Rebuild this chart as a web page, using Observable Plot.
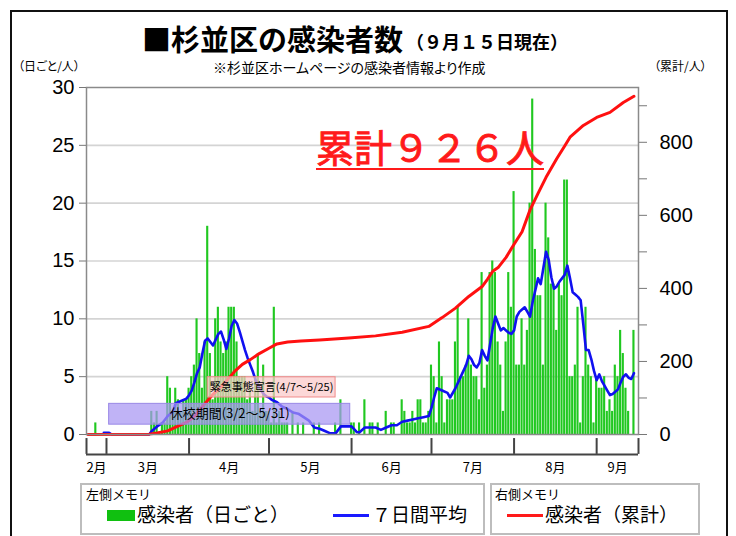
<!DOCTYPE html>
<html><head><meta charset="utf-8">
<script src="https://cdn.jsdelivr.net/npm/d3@7"></script>
<script src="https://cdn.jsdelivr.net/npm/@observablehq/plot@0.6"></script>
<style>
html,body{margin:0;padding:0;background:#fff;}
body{width:736px;height:536px;position:relative;overflow:hidden;font-family:"Noto Sans CJK JP",sans-serif;}
#frame{position:absolute;left:10px;top:10px;width:718px;height:570px;border:2px solid #111;box-sizing:border-box;}
#chart{position:absolute;left:0;top:0;}
.t{position:absolute;white-space:nowrap;line-height:1;color:#000;}
.box{position:absolute;border:2px solid #bdbdbd;box-sizing:border-box;background:#fff;}
</style></head><body>
<div id="frame"></div>
<div id="chart"></div>
<div class="t" style="left:142px;top:24px;font-size:29px;font-weight:700;">■杉並区の感染者数</div>
<div class="t" style="left:406px;top:32px;font-size:18px;font-weight:700;">（９月１５日現在）</div>
<div class="t" style="left:18px;top:60px;font-size:12px;font-feature-settings:'palt';">（日ごと/人）</div>
<div class="t" style="left:213px;top:60px;font-size:14px;font-feature-settings:'palt';">※杉並区ホームページの感染者情報より作成</div>
<div class="t" style="left:654px;top:60px;font-size:12px;font-feature-settings:'palt';">（累計/人）</div>
<div class="t" style="left:316px;top:127px;font-size:38px;font-weight:400;-webkit-text-stroke:0.9px #ff1a1a;color:#ff1a1a;padding-bottom:3px;border-bottom:2.5px solid #ff1a1a;">累計９２６人</div>

<div class="box" style="left:80px;top:483px;width:405px;height:52px;"></div>
<div class="t" style="left:86px;top:487px;font-size:13px;">左側メモリ</div>
<div style="position:absolute;left:107px;top:510px;width:28px;height:11px;background:#10c010;"></div>
<div class="t" style="left:137px;top:504px;font-size:19px;">感染者（日ごと）</div>
<div style="position:absolute;left:333px;top:514px;width:36px;height:3px;background:#1a1aff;"></div>
<div class="t" style="left:372px;top:504px;font-size:19px;">７日間平均</div>
<div class="box" style="left:490px;top:483px;width:210px;height:52px;"></div>
<div class="t" style="left:495px;top:487px;font-size:13px;">右側メモリ</div>
<div style="position:absolute;left:507px;top:514px;width:36px;height:3px;background:#ff1a1a;"></div>
<div class="t" style="left:545px;top:504px;font-size:19px;">感染者（累計）</div>

<script>
// ---- data ----
const firstDay = "02-23";           // first bar
const daily = [
  // Feb 23-29
  0,0,0,1,0,0,0,
  // Mar 1-31
  0,0,0,0,0,0,0,0,0,0, 0,0,0,0,0,0,0,2,1,2, 0,1,1,5,4,2,4,3,2,3, 3,
  // Apr 1-30
  4,5,6,10,7,4,8,18,7,3, 10,11,8,7,8,11,11,11,8,5, 5,5,3,4,2,5,7,2,6,2,
  // May 1-31
  2,1,11,1,2,1,1,1,0,2, 0,1,0,1,0,0,0,1,0,1, 0,0,0,0,0,1,0,3,0,0, 0,
  // Jun 1-30
  1,1,0,1,0,3,0,1,1,0, 1,0,0,2,0,1,1,0,0,3, 2,1,1,2,1,3,3,1,1,2,
  // Jul 1-31
  6,5,1,8,5,1,3,3,3,8, 11,5,5,6,10,6,5,5,3,14, 4,6,14,15,14,8,6,2,8,14, 11,
  // Aug 1-31
  21,6,6,10,6,9,20,29,16,12, 12,6,20,17,13,13,9,13,12,22, 22,5,5,6,11,1,5,11,6,5, 1,
  // Sep 1-15
  5,4,4,5,2,3,2,6,5,9, 7,4,2,0,9
];
const avg7 = [
  ["02-29",0.14],["03-01",0.14],["03-02",0.14],["03-03",0],["03-17",0],["03-18",0.3],["03-20",0.7],["03-22",1.0],["03-24",1.6],["03-26",2.0],["03-27",2.7],["03-29",2.9],["03-31",3.1],
  ["04-01",3.4],["04-02",3.8],["04-03",4.5],["04-04",5.3],["04-05",5.8],["04-06",7.0],["04-07",8.1],["04-08",8.3],["04-09",8.0],["04-10",7.7],["04-11",8.2],["04-12",8.7],["04-13",8.9],["04-14",8.2],["04-15",7.4],["04-16",8.3],["04-17",9.4],["04-18",9.9],["04-19",9.6],["04-20",8.9],["04-21",8.1],["04-22",7.3],["04-23",6.6],["04-24",6.0],["04-25",5.4],["04-26",4.7],["04-27",4.2],["04-28",3.8],["04-29",3.5],["04-30",3.3],
  ["05-01",3.2],["05-02",3.0],["05-03",2.9],["05-04",2.8],["05-05",2.6],["05-06",2.4],["05-08",2.2],["05-10",1.9],["05-12",1.8],["05-14",1.5],["05-16",1.2],["05-18",0.6],["05-20",0.5],["05-22",0.3],["05-24",0.1],["05-26",0.1],["05-28",0.7],["05-30",0.7],
  ["06-01",0.7],["06-03",0.2],["06-04",0.2],["06-06",0.6],["06-08",0.6],["06-10",0.6],["06-12",0.4],["06-14",0.6],["06-16",0.8],["06-18",0.8],["06-20",1.1],["06-22",1.2],["06-24",1.3],["06-26",1.4],["06-28",1.5],["06-30",1.6],
  ["07-01",2.3],["07-02",3.2],["07-03",4.0],["07-05",3.8],["07-07",3.6],["07-08",3.2],["07-10",4.0],["07-12",5.0],["07-14",6.0],["07-15",6.8],["07-16",6.5],["07-17",6.0],["07-18",5.8],["07-19",6.2],["07-20",7.3],["07-21",6.8],["07-22",6.4],["07-23",7.8],["07-24",9.2],["07-25",10.2],["07-26",9.6],["07-27",9.0],["07-28",9.2],["07-29",9.0],["07-30",8.8],["07-31",8.7],
  ["08-01",9.0],["08-02",10.2],["08-03",10.6],["08-04",10.8],["08-05",11.0],["08-06",10.6],["08-07",10.2],["08-08",11.5],["08-09",12.5],["08-10",13.5],["08-11",13.0],["08-12",14.4],["08-13",15.8],["08-14",15.1],["08-15",13.6],["08-16",12.6],["08-17",12.8],["08-18",13.2],["08-19",13.5],["08-20",13.8],["08-21",14.6],["08-22",13.5],["08-23",12.3],["08-24",12.1],["08-25",11.9],["08-26",11.6],["08-27",9.5],["08-28",7.3],["08-29",7.3],["08-30",6.5],["08-31",5.5],
  ["09-01",4.7],["09-02",5.2],["09-03",4.6],["09-04",4.2],["09-05",3.8],["09-06",3.4],["09-07",3.5],["09-08",3.7],["09-09",3.9],["09-10",4.5],["09-11",5.0],["09-12",5.2],["09-13",4.9],["09-14",4.8],["09-15",5.3]
];
const cumulative = [
  ["02-23",0],["03-17",1],["03-20",4],["03-24",10],["03-27",20],["03-31",33],["04-03",50],["04-07",85],["04-10",110],["04-13",130],["04-16",155],["04-18",172],["04-21",192],["04-24",205],["04-27",220],
  ["05-01",236],["05-04",248],["05-08",253],["05-13",256],["05-20",259],["05-31",264],["06-10",270],["06-20",280],["06-30",296],
  ["07-05",320],["07-10",346],["07-15",378],["07-20",405],["07-22",425],["07-24",447],["07-26",457],["07-29",485],
  ["08-01",521],["08-04",555],["08-07",615],["08-10",660],["08-13",704],["08-17",755],["08-20",790],["08-22",814],["08-27",846],
  ["09-01",868],["09-06",882],["09-11",909],["09-15",926]
];
const leftTicks = [0,5,10,15,20,25,30];
const gridTicks = [5,10,15,20,25];
const rightTicks = [0,100,200,300,400,500,600,700,800,900];
const rightMax = 950, leftMax = 30;
const axisStart = "02-22T12:00", axisEnd = "09-16T17:00";
const monthStarts = ["03-01","04-01","05-01","06-01","07-01","08-01","09-01"];
const monthNames = ["2月","3月","4月","5月","6月","7月","8月","9月"];
const periods = [
  {from:"03-02", to:"05-31T12:00", low:0.85, high:2.65, label:"休校期間(3/2～5/31)"},
  {from:"04-08", to:"05-26", low:3.2, high:4.95, label:"緊急事態宣言(4/7～5/25)"}
];

// ---- build ----
const DAY = 864e5;
const D = s => new Date(`2020-${s}${s.length > 5 ? "" : "T00:00"}Z`);
const t0 = D(firstDay);
const bars = daily.map((v, i) => ({date: new Date(+t0 + i * DAY), v}));
const avgRows = avg7.map(([d, v]) => ({date: D(d), v}));
const k = leftMax / rightMax;
const cumRows = cumulative.map(([d, v]) => ({date: D(d), v: v * k}));
const bounds = [D(axisStart), ...monthStarts.map(D), D(axisEnd)];
const labels = monthNames.map((name, i) => ({name, x: new Date((+bounds[i] + +bounds[i + 1]) / 2)}));
const per = periods.map(p => ({...p, x1: D(p.from), x2: D(p.to), xm: new Date((+D(p.from) + +D(p.to)) / 2), ym: (p.low + p.high) / 2}));

const jp = "Noto Sans CJK JP";
const chart = Plot.plot({
  width: 736, height: 480,
  marginTop: 87, marginBottom: 46, marginLeft: 86, marginRight: 98,
  style: {fontFamily: "Liberation Sans, Arial, sans-serif", background: "transparent", overflow: "visible"},
  x: {type: "utc", domain: [bounds[0], bounds[bounds.length - 1]], axis: null},
  y: {domain: [0, leftMax], axis: null},
  marks: [
    Plot.gridY(gridTicks, {stroke: "#d4d4d4", strokeOpacity: 1, strokeWidth: 1.6}),
    Plot.rect(bars, {x1: d => new Date(+d.date - 0.4 * DAY), x2: d => new Date(+d.date + 0.4 * DAY), y1: 0, y2: "v", fill: "#20c820"}),
    Plot.line(avgRows, {x: "date", y: "v", stroke: "#1010f0", strokeWidth: 2.6, curve: "linear"}),
    Plot.line(cumRows, {x: "date", y: "v", stroke: "#ff1010", strokeWidth: 3}),
    Plot.rect(per.slice(0,1), {x1: "x1", x2: "x2", y1: "low", y2: "high", fill: "#a796f2", fillOpacity: 0.72, stroke: "#9988e6", strokeWidth: 1}),
    Plot.rect(per.slice(1), {x1: "x1", x2: "x2", y1: "low", y2: "high", fill: "#fbc9c9", fillOpacity: 0.72, stroke: "#f08a8a", strokeWidth: 1}),
    Plot.text(per.slice(0,1), {x: "xm", y: "ym", text: "label", fontSize: 13, fontFamily: jp, fill: "#000"}),
    Plot.text(per.slice(1), {x: "xm", y: "ym", text: "label", fontSize: 11, fontFamily: jp, fill: "#000"}),
    Plot.frame({stroke: "#8a8a8a", strokeWidth: 1.5}),
    Plot.axisY(leftTicks, {anchor: "left", tickSize: 7, tickPadding: 5, fontSize: 20, stroke: "#777", fill: "#000", label: null}),
    Plot.axisY(rightTicks.map(v => v * k), {anchor: "right", tickSize: 8, tickPadding: 13, fontSize: 20, stroke: "#777", fill: "#000", label: null,
      tickFormat: v => { const c = Math.round(v / k); return c % 200 === 0 ? String(c) : ""; }}),
    Plot.ruleY([-1.72], {stroke: "#444", strokeWidth: 2}),
    Plot.ruleX(bounds, {y1: -0.35, y2: -1.72, stroke: "#444", strokeWidth: 2}),
    Plot.text(labels, {x: "x", y: -2.9, text: "name", fontSize: 13, fontFamily: jp, fill: "#000"})
  ]
});
document.getElementById("chart").appendChild(chart);
</script>
</body></html>
